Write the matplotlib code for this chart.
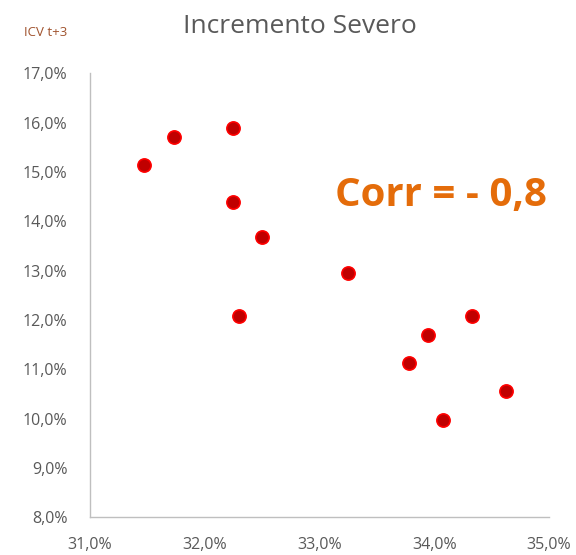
import matplotlib.pyplot as plt
from matplotlib.ticker import FuncFormatter

plt.rcParams['font.family'] = ['Open Sans', 'DejaVu Sans']

# x = indicator (%), y = ICV t+3 (%)
x_vals = [31.47, 31.73, 32.25, 32.25, 32.50, 32.30, 33.25, 33.78, 33.95, 34.33, 34.08, 34.63]
y_vals = [15.15, 15.70, 15.90, 14.40, 13.69, 12.07, 12.96, 11.12, 11.69, 12.07, 9.98, 10.55]

x_ticks = [31, 32, 33, 34, 35]
y_ticks = [8, 9, 10, 11, 12, 13, 14, 15, 16, 17]

fig = plt.figure(figsize=(5.76, 5.55), dpi=100)
ax = fig.add_axes([0.156, 0.068, 0.797, 0.80])

ax.plot(x_vals, y_vals, linestyle='none', marker='o', markersize=9.5,
        markerfacecolor='#C00000', markeredgecolor='#FF0000', markeredgewidth=1.2,
        clip_on=False)

ax.set_xlim(31, 35)
ax.set_ylim(8, 17)
ax.set_xticks(x_ticks)
ax.set_yticks(y_ticks)

pct = FuncFormatter(lambda v, p: f"{v:.1f}%".replace('.', ','))
ax.xaxis.set_major_formatter(pct)
ax.yaxis.set_major_formatter(pct)

for s in ['top', 'right']:
    ax.spines[s].set_visible(False)
for s in ['left', 'bottom']:
    ax.spines[s].set_color('#bfbfbf')
    ax.spines[s].set_linewidth(1)

ax.tick_params(length=0, labelsize=11.5, labelcolor='#595959')
ax.tick_params(axis='x', pad=14)
ax.tick_params(axis='y', pad=16)

fig.text(0.52, 0.952, 'Incremento Severo', ha='center', va='center',
         fontsize=19, color='#595959')
fig.text(0.08, 0.942, 'ICV t+3', ha='center', va='center',
         fontsize=9.5, color='#A0522D')
fig.text(0.765, 0.648, 'Corr = - 0,8', ha='center', va='center',
         fontsize=29, fontweight='bold', color='#E46C0A')

fig.savefig('out.png', dpi=100)
